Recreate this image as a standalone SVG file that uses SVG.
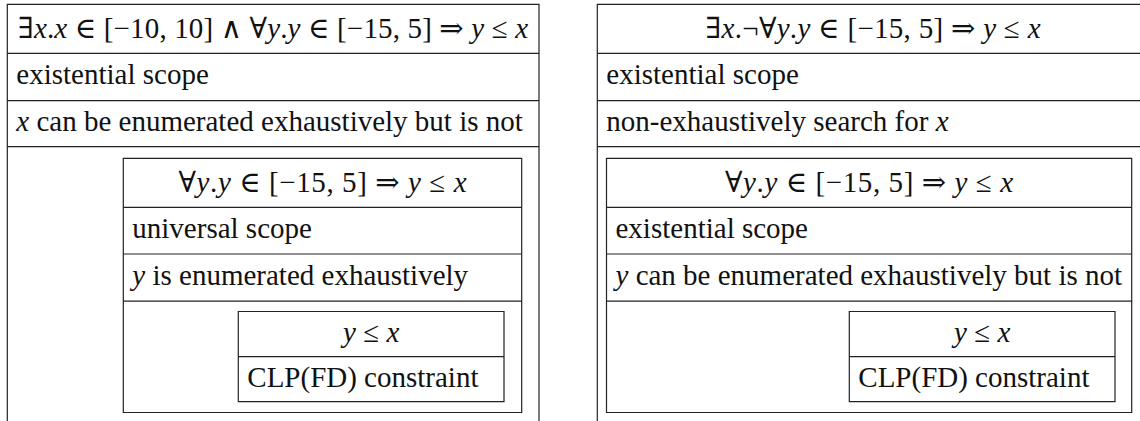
<svg xmlns="http://www.w3.org/2000/svg" width="1140" height="421" viewBox="0 0 1140 421">
<style>
.ln{fill:none;stroke:#222;stroke-width:1.2}
.t{font-family:'Liberation Serif','DejaVu Serif',serif;font-size:29px;fill:#111}
.m{text-anchor:middle}
.i{font-style:italic}
</style>
<rect width="1140" height="421" fill="#fff"/>
<g id="left-outer">
<path class="ln" d="M7.3 421V4.3H539V421M7.3 53.3H539M7.3 100.7H539M7.3 146.7H539"/>
<text class="t m" x="273" y="37.8" textLength="510" lengthAdjust="spacing">∃<tspan class="i">x</tspan>.<tspan class="i">x</tspan> ∈ [−10, 10] ∧ ∀<tspan class="i">y</tspan>.<tspan class="i">y</tspan> ∈ [−15, 5] ⇒ <tspan class="i">y</tspan> ≤ <tspan class="i">x</tspan></text>
<text class="t" x="16.3" y="84.3">existential scope</text>
<text class="t" x="16.3" y="131.2"><tspan class="i">x</tspan> can be enumerated exhaustively but is not</text>
</g>
<g id="left-inner">
<path class="ln" d="M123.3 158.3H521.7V412.5H123.3ZM123.3 207.3H521.7M123.3 254H521.7M123.3 301.2H521.7"/>
<text class="t m" x="322.5" y="191.8" textLength="288" lengthAdjust="spacing">∀<tspan class="i">y</tspan>.<tspan class="i">y</tspan> ∈ [−15, 5] ⇒ <tspan class="i">y</tspan> ≤ <tspan class="i">x</tspan></text>
<text class="t" x="132.3" y="238">universal scope</text>
<text class="t" x="132.3" y="284.5"><tspan class="i">y</tspan> is enumerated exhaustively</text>
</g>
<g id="left-innermost">
<path class="ln" d="M238.3 311.5H504V401.7H238.3ZM238.3 356.6H504"/>
<text class="t m" x="371.2" y="342"><tspan class="i">y</tspan> ≤ <tspan class="i">x</tspan></text>
<text class="t" x="247.3" y="387.1">CLP(FD) constraint</text>
</g>
<g id="right-outer">
<path class="ln" d="M597.3 421V4.3H1149V421M597.3 53.3H1149M597.3 100.7H1149M597.3 146.7H1149"/>
<text class="t m" x="873" y="37.8" textLength="335" lengthAdjust="spacing">∃<tspan class="i">x</tspan>.¬∀<tspan class="i">y</tspan>.<tspan class="i">y</tspan> ∈ [−15, 5] ⇒ <tspan class="i">y</tspan> ≤ <tspan class="i">x</tspan></text>
<text class="t" x="606.3" y="84.3">existential scope</text>
<text class="t" x="606.3" y="131.2">non-exhaustively search for <tspan class="i">x</tspan></text>
</g>
<g id="right-inner">
<path class="ln" d="M606.5 158.3H1131.7V412.5H606.5ZM606.5 207.3H1131.7M606.5 254H1131.7M606.5 301.2H1131.7"/>
<text class="t m" x="869" y="191.8" textLength="288" lengthAdjust="spacing">∀<tspan class="i">y</tspan>.<tspan class="i">y</tspan> ∈ [−15, 5] ⇒ <tspan class="i">y</tspan> ≤ <tspan class="i">x</tspan></text>
<text class="t" x="615.5" y="238">existential scope</text>
<text class="t" x="615.5" y="284.5"><tspan class="i">y</tspan> can be enumerated exhaustively but is not</text>
</g>
<g id="right-innermost">
<path class="ln" d="M849.3 311.5H1115V401.7H849.3ZM849.3 356.6H1115"/>
<text class="t m" x="982.2" y="342"><tspan class="i">y</tspan> ≤ <tspan class="i">x</tspan></text>
<text class="t" x="858.3" y="387.1">CLP(FD) constraint</text>
</g>
<g id="connectors"/>
</svg>
